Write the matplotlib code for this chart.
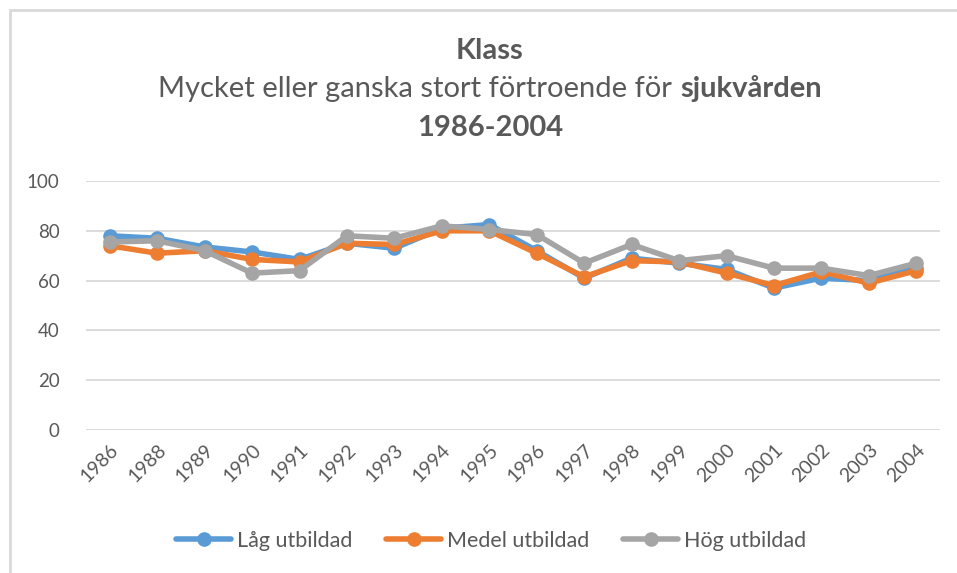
import matplotlib.pyplot as plt
from matplotlib.patches import Rectangle

plt.rcParams['font.family'] = ['Lato', 'DejaVu Sans']

years = ['1986', '1988', '1989', '1990', '1991', '1992', '1993', '1994', '1995',
         '1996', '1997', '1998', '1999', '2000', '2001', '2002', '2003', '2004']
lag = [78, 77, 73.5, 71.5, 68.5, 75, 73, 81, 82.5, 72, 61, 69, 67, 64.5, 57, 61, 60, 65]
medel = [74, 71, 72, 68.5, 67.5, 75, 74.5, 80, 80, 71, 61.5, 68, 67.5, 63, 58, 63.5, 59, 64]
hog = [75.5, 76, 72, 63, 64, 78, 77, 82, 80.5, 78.5, 67, 74.5, 68, 70, 65, 65, 62, 67]

series = [('Låg utbildad', lag, '#5B9BD5'),
          ('Medel utbildad', medel, '#ED7D31'),
          ('Hög utbildad', hog, '#A5A5A5')]

txt = '#595959'
fig = plt.figure(figsize=(9.57, 5.73), dpi=100)
ax = fig.add_axes([86/957, 1 - 430/573, (940 - 86)/957, (430 - 181)/573])

x = list(range(len(years)))
for name, vals, col in series:
    ax.plot(x, vals, color=col, lw=4, marker='o', ms=9.5, label=name, solid_capstyle='round')

ax.set_xlim(-0.5, len(years) - 0.5)
ax.set_ylim(0, 100)
ax.set_yticks(range(0, 101, 20))
ax.set_xticks(x)
ax.set_xticklabels(years, rotation=45, ha='right', rotation_mode='anchor')
ax.tick_params(axis='both', length=0, colors=txt, labelsize=13.5)
ax.tick_params(axis='x', labelsize=14, pad=8)
ax.tick_params(axis='y', pad=19)
ax.grid(axis='y', color='#D9D9D9', lw=1.3)
ax.set_axisbelow(True)
for s in ax.spines.values():
    s.set_visible(False)

# chart frame (only top and left visible)
fig.patches.append(Rectangle((10/957, -0.1), 1.2, 1 - 10/573 + 0.1, transform=fig.transFigure,
                             fill=False, edgecolor='#D9D9D9', lw=2))

fig.text(490/957, 1 - 51/573, 'Klass', ha='center', va='center', fontsize=21,
         fontweight='bold', color=txt)
fig.text(490/957, 1 - 128/573, '1986-2004', ha='center', va='center', fontsize=21,
         fontweight='bold', color=txt)

# subtitle with bold last word
fig.canvas.draw()
r = fig.canvas.get_renderer()
t1 = fig.text(0, 1 - 89/573, 'Mycket eller ganska stort förtroende för ', ha='left', va='center',
              fontsize=21, color=txt)
t2 = fig.text(0, 1 - 89/573, 'sjukvården', ha='left', va='center', fontsize=21,
              fontweight='bold', color=txt)
w1 = t1.get_window_extent(r).width
w2 = t2.get_window_extent(r).width
x0 = 490 - (w1 + w2) / 2
t1.set_x(x0 / 957)
t2.set_x((x0 + w1) / 957)

leg = fig.legend(loc='center', bbox_to_anchor=(491/957, 1 - 541/573), ncol=3, frameon=False,
                 fontsize=15.5, handlelength=2.55, columnspacing=1.6, handletextpad=0.25)
for t in leg.get_texts():
    t.set_color(txt)

fig.savefig('out.png', dpi=100, facecolor='white')
